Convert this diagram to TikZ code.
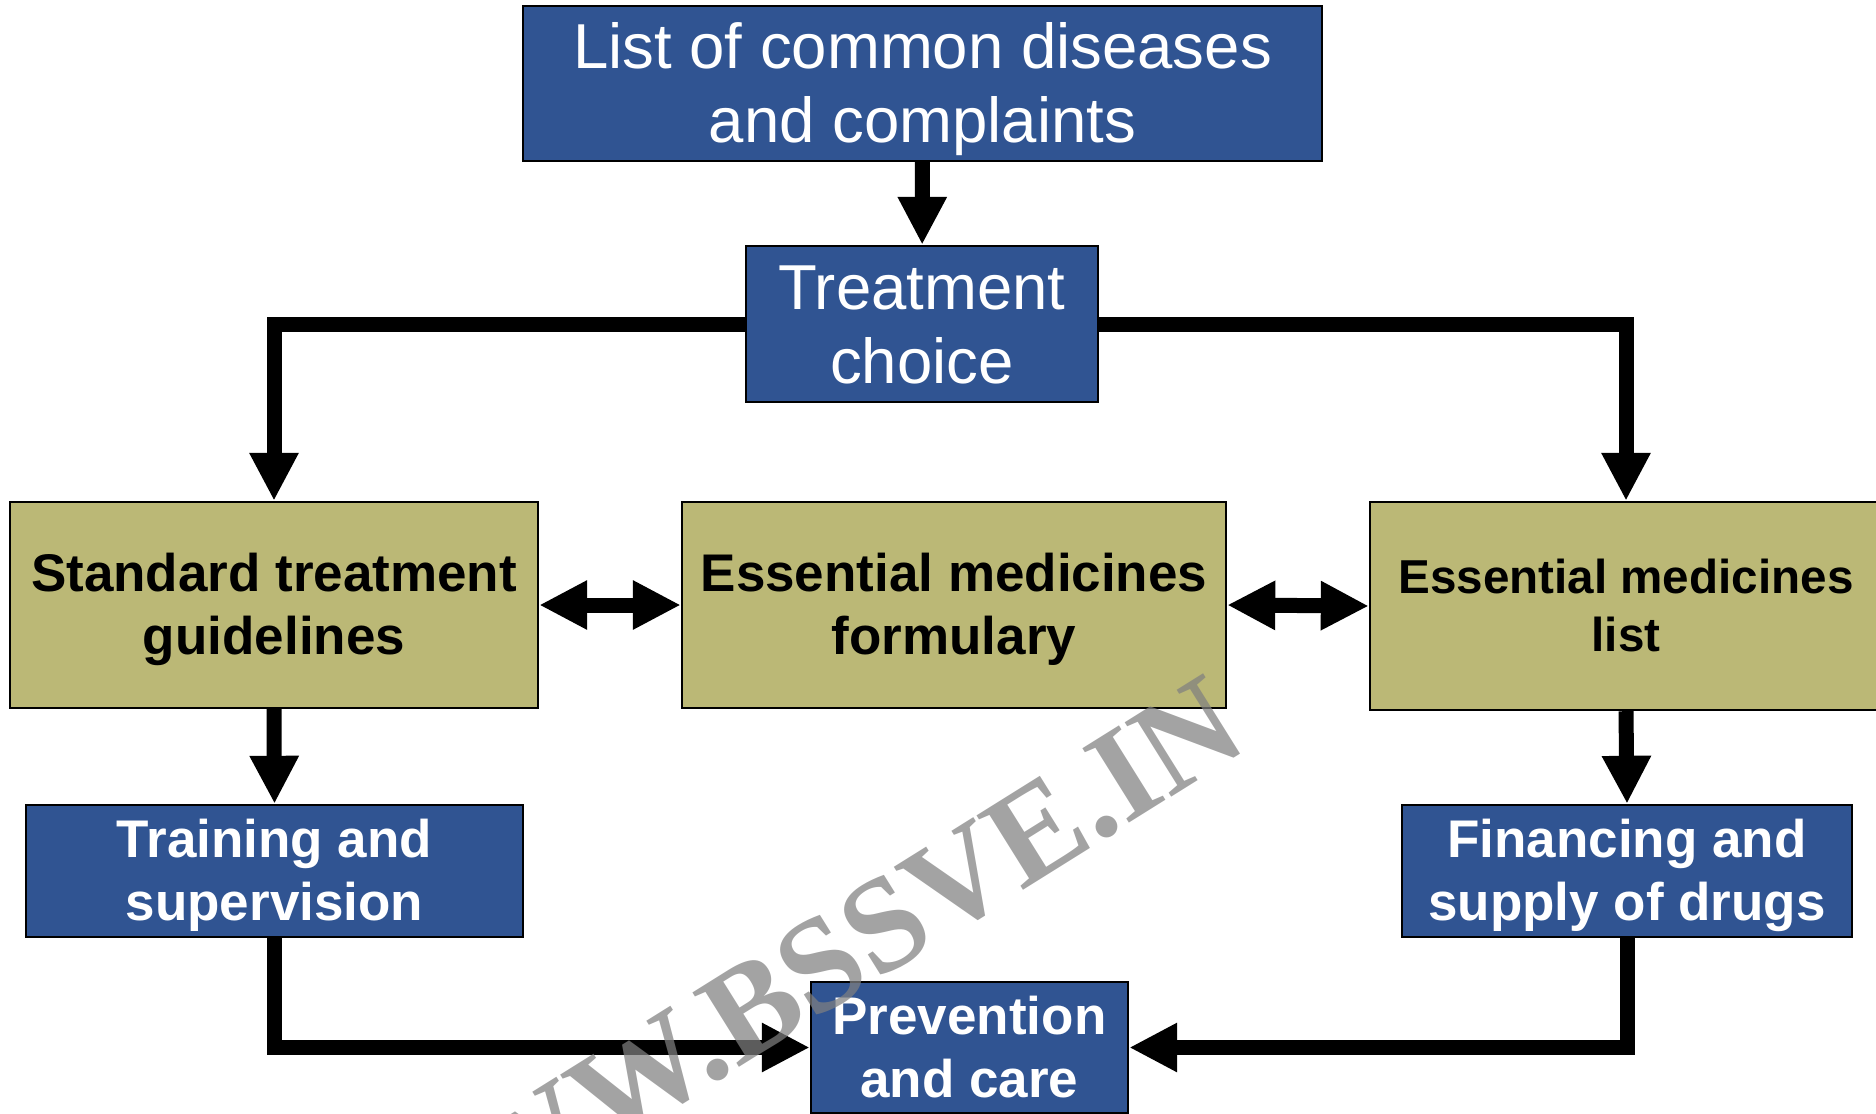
\documentclass[tikz,border=0pt]{standalone}
\usepackage{fontspec}
\setmainfont{Liberation Sans}
\newfontfamily\markfont{Liberation Serif}
\usepackage{xcolor}
\usetikzlibrary{arrows.meta}
\definecolor{boxblue}{RGB}{48,84,146}
\definecolor{boxolive}{RGB}{187,184,118}
\newcommand{\boxstrut}{\rule[-0.212em]{0pt}{1.117em}}
\tikzset{
	bluebox/.style={rectangle,draw=black,line width=1.2pt,fill=boxblue,text=white,align=center,inner sep=0pt,font=\bfseries\fontsize{26.5}{31.5}\selectfont},
	topbox/.style={bluebox,font=\fontsize{31.75}{37}\selectfont},
	olivebox/.style={rectangle,draw=black,line width=1.2pt,fill=boxolive,text=black,align=center,inner sep=0pt,font=\bfseries\fontsize{26.5}{31.5}\selectfont},
	link/.style={line width=7.5pt,-{Triangle[length=24pt,width=23pt]}},
	twoway/.style={line width=7.5pt,{Triangle[length=24pt,width=23pt]}-{Triangle[length=24pt,width=23pt]}}
}

\begin{document}
\begin{tikzpicture}[x=0.5pt,y=-0.5pt]
	\useasboundingbox (0,0) rectangle (1876,1114);
	% top
	\node[topbox,minimum width=399.5pt,minimum height=77.5pt] (list) at (922.5,83.5) {\boxstrut List of common diseases\\\boxstrut and complaints};
	\node[topbox,minimum width=176pt,minimum height=78pt] (choice) at (922,324) {\boxstrut Treatment\\\boxstrut choice};
	% middle row
	\node[olivebox,minimum width=264pt,minimum height=103pt] (stg) at (274,605) {\boxstrut Standard treatment\\\boxstrut guidelines};
	\node[olivebox,minimum width=272pt,minimum height=103pt] (emf) at (954,605) {\boxstrut Essential medicines\\\boxstrut formulary};
	\node[olivebox,minimum width=256pt,minimum height=104pt,font=\bfseries\fontsize{23.8}{29}\selectfont] (eml) at (1626,606) {\boxstrut Essential medicines\\\boxstrut list};
	% bottom row
	\node[bluebox,minimum width=248.5pt,minimum height=66pt] (train) at (274.5,871) {\boxstrut Training and\\\boxstrut supervision};
	\node[bluebox,minimum width=225pt,minimum height=66pt] (supply) at (1627,871) {\boxstrut Financing and\\\boxstrut supply of drugs};
	\node[bluebox,minimum width=158.5pt,minimum height=65.5pt] (care) at (969.5,1047.5) {\boxstrut Prevention\\\boxstrut and care};
	% arrows
	\draw[link] (list) -- (choice);
	\draw[link] (choice.west) -| (stg.north);
	\draw[link] (choice.east) -| (eml.north);
	\draw[twoway] (stg.east) -- (emf.west);
	\draw[twoway] (emf.east) -- (eml.west);
	\draw[link] (stg.south) -- (train.north);
	\draw[link] (eml.south) -- (supply.north);
	\draw[link] (train.south) |- (care.west);
	\draw[link] (supply.south) |- (care.east);
	%\draw[gray] (0,0) rectangle (1876,1114);
	\node[rotate=32,anchor=base,text=gray,opacity=0.72,inner sep=0pt,font=\markfont\bfseries\fontsize{67}{67}\selectfont] (mark) at (815,1020) {WWW.BSSVE.IN};
\end{tikzpicture}
\end{document}
